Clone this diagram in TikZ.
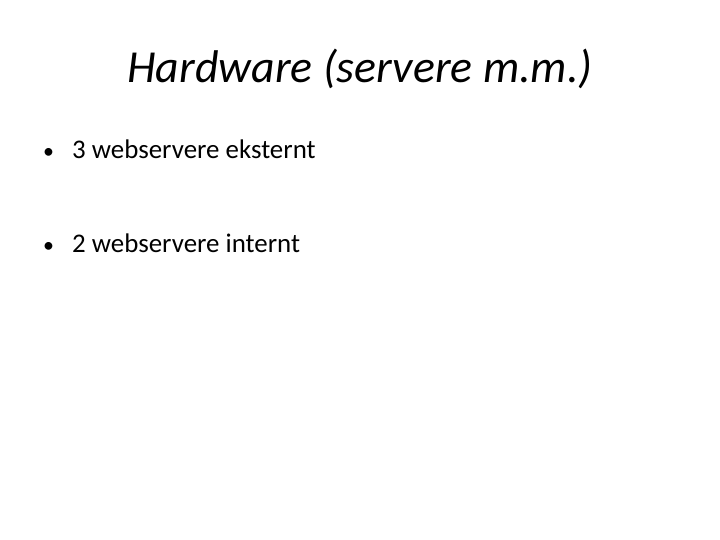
\documentclass[tikz,border=0pt]{standalone}
\usepackage{fontspec}
\setmainfont{Carlito}
\begin{document}
\begin{tikzpicture}[x=1bp,y=-1bp,
  bul/.style={anchor=base west,font=\fontsize{27}{32}\selectfont,inner sep=0},
  dot/.style={anchor=base west,font=\fontsize{22}{26}\selectfont,inner sep=0}]
\useasboundingbox[fill=white] (0,0) rectangle (720,540);
\node[anchor=base,font=\fontsize{46}{52}\selectfont\itshape,inner sep=0] (title) at (360,83) {Hardware (servere m.m.)};
\node[dot] (b1d) at (43,159) {•};
\node[bul] (b1) at (72,159) {3 webservere eksternt};
\node[dot] (b2d) at (43,253) {•};
\node[bul] (b2) at (72,253) {2 webservere internt};
\end{tikzpicture}
\end{document}
